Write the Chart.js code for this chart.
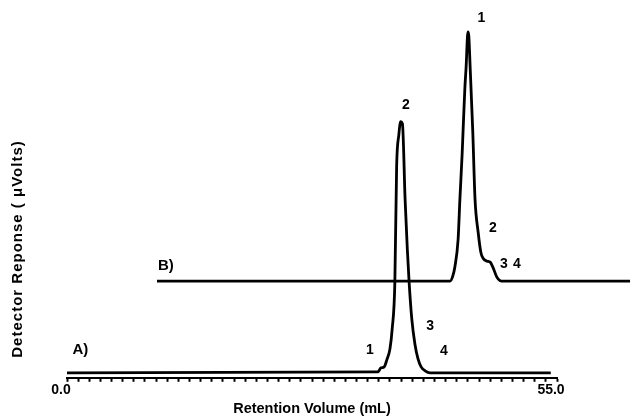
<!DOCTYPE html>
<html>
<head>
<meta charset="utf-8">
<script src="https://cdn.jsdelivr.net/npm/chart.js@4/dist/chart.umd.min.js"></script>
<style>
    html, body { margin: 0; padding: 0; background: #fff; }
    #wrap { width: 632px; height: 418px; }
</style>
</head>
<body>
<div id="wrap"><canvas id="chromChart" width="632" height="418"></canvas></div>
<script>
// trace A (lower chromatogram)
const traceAVolume   = [0, 34.9, 35.25, 35.6, 35.9, 36.25, 36.5, 36.8, 37.0, 37.25, 37.45, 37.65, 37.95, 38.2, 38.4, 38.7, 39.05, 39.4, 39.75, 40.2, 40.75, 54.3];
const traceAResponse = [5, 6, 10, 11, 18, 29, 49, 96, 212, 244, 257, 255, 179, 129, 96, 59, 34, 19, 11, 7, 5, 5];

// trace B (upper chromatogram, offset baseline)
const traceBVolume   = [10.1, 43.0, 43.3, 43.55, 43.9, 44.1, 44.35, 44.45, 44.65, 44.8, 45.0, 45.1, 45.25, 45.4, 45.55, 45.8, 46.15, 46.45, 46.7, 47.15, 47.5, 47.8, 48.25, 48.6, 48.8, 63.2];
const traceBResponse = [97, 97, 102, 112, 139, 179, 224, 246, 289, 312, 347, 343, 312, 279, 246, 179, 146, 126, 120, 117, 116, 111, 101, 97.5, 97, 97];

// axis
const volumeMin = 0;
const volumeMax = 55;
const tickStep = 1.25;
const labeledTicks = [0, 55];
const tickLabels = ['0.0', '55.0'];

// peak numbers and trace tags
const tagText     = ['1', '2', '2', '3', '4', 'B)', 'A)', '1', '3', '4'];
const tagVolume   = [46.5, 38.05, 47.8, 49.05, 50.5, 11.1, 1.5, 34.0, 40.75, 42.3];
const tagResponse = [361, 274, 150, 114, 114, 112, 28, 28, 52, 27];

const toPoints = (xs, ys) => xs.map((x, i) => ({ x: x, y: ys[i] }));

const tagPlugin = {
    id: 'tagPlugin',
    afterDatasetsDraw(chart) {
        const ctx = chart.ctx;
        const xs = chart.scales.x;
        const ys = chart.scales.y;
        ctx.save();
        ctx.fillStyle = '#000';
        ctx.textAlign = 'center';
        ctx.textBaseline = 'middle';
        tagText.forEach((t, i) => {
            const big = t.indexOf(')') >= 0;
            ctx.font = 'bold ' + (big ? 15 : 14) + 'px "Liberation Sans", Arial, sans-serif';
            ctx.fillText(t, xs.getPixelForValue(tagVolume[i]), ys.getPixelForValue(tagResponse[i]));
        });
        // y axis title
        ctx.translate(18, 249);
        ctx.rotate(-Math.PI / 2);
        ctx.font = 'bold 15px "Liberation Sans", Arial, sans-serif';
        ctx.letterSpacing = '1px';
        ctx.fillText('Detector Reponse ( \u03bcVolts)', 0, 0);
        ctx.restore();
    }
};

const lineStyle = {
    borderColor: '#000',
    borderWidth: 2.8,
    pointRadius: 0,
    fill: false,
    tension: 0,
    cubicInterpolationMode: 'monotone',
    clip: false
};

new Chart(document.getElementById('chromChart').getContext('2d'), {
    type: 'line',
    data: {
        datasets: [
            Object.assign({ label: 'A', data: toPoints(traceAVolume, traceAResponse) }, lineStyle),
            Object.assign({ label: 'B', data: toPoints(traceBVolume, traceBResponse) }, lineStyle)
        ]
    },
    options: {
        responsive: false,
        animation: false,
        devicePixelRatio: 1,
        layout: { padding: { left: 67, right: 75, top: 10, bottom: 0 } },
        plugins: {
            legend: { display: false },
            tooltip: { enabled: false }
        },
        scales: {
            x: {
                type: 'linear',
                min: volumeMin,
                max: volumeMax,
                afterBuildTicks: (axis) => {
                    const ticks = [];
                    for (let i = 0; i <= (volumeMax - volumeMin) / tickStep; i++) {
                        ticks.push({ value: volumeMin + i * tickStep });
                    }
                    axis.ticks = ticks;
                },
                border: { display: true, color: '#000', width: 2 },
                grid: {
                    drawOnChartArea: false,
                    drawTicks: true,
                    tickLength: 4,
                    tickWidth: 2,
                    tickColor: '#000'
                },
                ticks: {
                    autoSkip: false,
                    maxRotation: 0,
                    padding: 0,
                    labelOffset: -6,
                    color: '#000',
                    font: { family: '"Liberation Sans", Arial, sans-serif', size: 14, weight: 'bold' },
                    callback: (value) => {
                        const k = labeledTicks.indexOf(value);
                        return k >= 0 ? tickLabels[k] : '';
                    }
                },
                title: {
                    display: true,
                    text: 'Retention Volume (mL)',
                    color: '#000',
                    padding: { top: 2, bottom: 0 },
                    font: { family: '"Liberation Sans", Arial, sans-serif', size: 14.5, weight: 'bold' }
                }
            },
            y: {
                display: false,
                min: 0,
                max: 369
            }
        }
    },
    plugins: [tagPlugin]
});
</script>
</body>
</html>
